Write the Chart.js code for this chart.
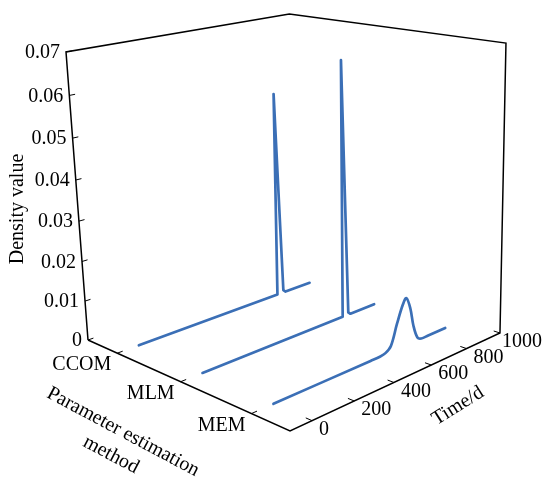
<!DOCTYPE html>
<html>
<head>
<meta charset="utf-8">
<script src="https://cdn.jsdelivr.net/npm/chart.js@4.4.1/dist/chart.umd.min.js"></script>
<style>
  html, body { margin: 0; padding: 0; background: #fff; }
  canvas { display: block; }
</style>
</head>
<body>
<canvas id="chart" width="543" height="482"></canvas>
<script>
// categories and values
const methods = ['CCOM', 'MLM', 'MEM'];

const ccomTime = [0, 714, 727, 748, 760, 900];
const ccomDensity = [0, 0, 0.0532, 0.0006, 0, 0];

const mlmTime = [0, 718, 731, 750, 762, 900];
const mlmDensity = [0, 0, 0.0645, 0.0006, 0, 0];

const memTime = [0, 480, 530, 560, 590, 624, 657, 676, 698, 715, 738, 760, 800, 900];
const memDensity = [0, 0, 0, 0.0003, 0.0015, 0.0064, 0.0106, 0.0118, 0.0088, 0.0042, 0.0007, 0, 0, 0];

const timeTicks = [0, 200, 400, 600, 800, 1000];
const densityTicks = [0, 0.01, 0.02, 0.03, 0.04, 0.05, 0.06, 0.07];
const densityLabels = ['0', '0.01', '0.02', '0.03', '0.04', '0.05', '0.06', '0.07'];

// axis ranges of the 3D box
const methodRange = [0, 3];
const timeRange = [-100, 1000];
const densityRange = [0, 0.07];

// perspective camera: homogeneous image of the box origin and of the three unit axes
const cam = {
  o: [88, 340, 1],
  m: [157.6, 24.96, -0.15315],
  t: [252.25, -33.36, 0.14891],
  d: [-26.197, -291.4, -0.063584]
};

function proj(m, t, d) {
  const u = (m - methodRange[0]) / (methodRange[1] - methodRange[0]);
  const v = (t - timeRange[0]) / (timeRange[1] - timeRange[0]);
  const w = (d - densityRange[0]) / (densityRange[1] - densityRange[0]);
  const h = [0, 1, 2].map(k => cam.o[k] + u * cam.m[k] + v * cam.t[k] + w * cam.d[k]);
  return { x: h[0] / h[2], y: h[1] / h[2] };
}

const tMin = timeRange[0], tMax = timeRange[1];
const mMin = methodRange[0], mMax = methodRange[1];
const dMax = densityRange[1];

const blue = '#3b6fb6';
const datasets = [];

// outer box outline
const frame = [
  proj(mMin, tMin, 0), proj(mMin, tMin, dMax), proj(mMin, tMax, dMax),
  proj(mMax, tMax, dMax), proj(mMax, tMax, 0), proj(mMax, tMin, 0), proj(mMin, tMin, 0)
];
datasets.push({ data: frame, borderColor: '#000', borderWidth: 1.5, tension: 0 });

function tick(a, b) {
  datasets.push({ data: [a, b], borderColor: '#000', borderWidth: 1, tension: 0 });
}
densityTicks.forEach(d => tick(proj(mMin, tMin, d), proj(mMin, tMin + 25, d)));
methods.forEach((_, i) => tick(proj(i + 0.5, tMin, 0), proj(i + 0.5, tMin + 25, 0)));
timeTicks.forEach(t => tick(proj(mMax, t, 0), proj(mMax - 0.08, t, 0)));

// density curves, one per method
const series = [
  { time: ccomTime, dens: ccomDensity, tension: 0 },
  { time: mlmTime, dens: mlmDensity, tension: 0 },
  { time: memTime, dens: memDensity, tension: 0.35 }
];
series.forEach((s, i) => {
  datasets.push({
    data: s.time.map((t, j) => proj(i + 0.5, t, s.dens[j])),
    borderColor: blue,
    borderWidth: 2.7,
    borderCapStyle: 'round',
    borderJoinStyle: 'round',
    tension: s.tension
  });
});

const labelsPlugin = {
  id: 'labels3d',
  afterDraw(chart) {
    const ctx = chart.ctx;
    const sx = chart.scales.x, sy = chart.scales.y;
    const px = p => ({ x: sx.getPixelForValue(p.x), y: sy.getPixelForValue(p.y) });
    ctx.save();
    ctx.fillStyle = '#000';
    ctx.font = '20px "Liberation Serif", "Times New Roman", serif';
    ctx.textBaseline = 'middle';

    ctx.textAlign = 'right';
    densityTicks.forEach((d, i) => {
      const p = px(proj(mMin, tMin, d));
      ctx.fillText(densityLabels[i], p.x - 6, p.y + 1);
    });
    methods.forEach((name, i) => {
      const p = px(proj(i + 0.5, tMin, 0));
      ctx.fillText(name, p.x - 6, p.y + 12);
    });
    ctx.textAlign = 'left';
    timeTicks.forEach(t => {
      const p = px(proj(mMax, t, 0));
      const dx = String(t).length > 3 ? 2 : 7;
      ctx.fillText(String(t), p.x + dx, p.y + 9);
    });

    ctx.textAlign = 'center';
    ctx.save();
    ctx.translate(18, 209);
    ctx.rotate(-Math.PI / 2);
    ctx.fillText('Density value', 0, 0);
    ctx.restore();

    ctx.save();
    ctx.translate(123, 432);
    ctx.rotate(28 * Math.PI / 180);
    ctx.fillText('Parameter estimation', 0, 0);
    ctx.restore();

    ctx.save();
    ctx.translate(111, 455);
    ctx.rotate(28 * Math.PI / 180);
    ctx.fillText('method', 0, 0);
    ctx.restore();

    ctx.save();
    ctx.translate(458, 406);
    ctx.rotate(-32 * Math.PI / 180);
    ctx.fillText('Time/d', 0, 0);
    ctx.restore();

    ctx.restore();
  }
};

new Chart(document.getElementById('chart').getContext('2d'), {
  type: 'scatter',
  data: { datasets: datasets.map(ds => Object.assign({ showLine: true, pointRadius: 0, fill: false, clip: false }, ds)) },
  options: {
    responsive: false,
    animation: false,
    layout: { padding: 0 },
    plugins: { legend: { display: false }, tooltip: { enabled: false } },
    scales: {
      x: { type: 'linear', min: 0, max: 543, display: false },
      y: { type: 'linear', min: 0, max: 482, reverse: true, display: false }
    }
  },
  plugins: [labelsPlugin]
});
</script>
</body>
</html>
